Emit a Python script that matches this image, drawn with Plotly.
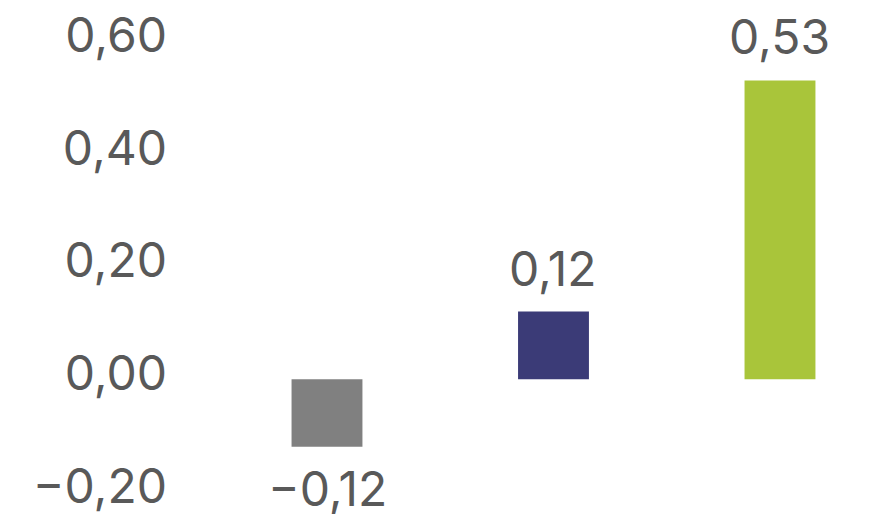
import plotly.graph_objects as go

# Bar values and colours
categories = ["A", "B", "C"]
values = [-0.12, 0.12, 0.53]
colors = ["#808080", "#3b3b77", "#a9c53a"]
y_ticks = [-0.2, 0.0, 0.2, 0.4, 0.6]

FONT = "Inter"
TEXT_COLOR = "#595959"
FONT_SIZE = 48
FONT_WEIGHT = 400

x_pos = list(range(len(categories)))

fig = go.Figure(
    go.Bar(
        x=x_pos,
        y=values,
        marker=dict(color=colors, line=dict(width=0)),
        width=0.313,
        hoverinfo="skip",
    )
)

# Value labels above positive bars, below negative ones
for xi, v in zip(x_pos, values):
    label = f"{v:.2f}".replace(".", ",").replace("-", "\u2212")
    fig.add_annotation(
        x=xi,
        y=v,
        text=label,
        showarrow=False,
        yanchor="bottom" if v >= 0 else "top",
        yshift=12 if v >= 0 else -10,
        font=dict(family=FONT, size=FONT_SIZE, color=TEXT_COLOR, weight=FONT_WEIGHT),
    )

fig.update_layout(
    width=877,
    height=514,
    margin=dict(l=200, r=0, t=41, b=22),
    paper_bgcolor="white",
    plot_bgcolor="white",
    separators=", ",
    showlegend=False,
    font=dict(family=FONT, size=FONT_SIZE, color=TEXT_COLOR, weight=FONT_WEIGHT),
)
fig.update_xaxes(
    range=[-0.5607, 2.4283],
    showticklabels=False,
    showgrid=False,
    zeroline=False,
    showline=False,
    automargin=False,
)
fig.update_yaxes(
    range=[-0.2001, 0.6],
    tickvals=y_ticks,
    tickformat=".2f",
    showgrid=False,
    zeroline=False,
    showline=False,
    automargin=False,
    ticklabelstandoff=32,
    ticklabelshift=-6,
    ticklabeloverflow="allow",
    tickfont=dict(family=FONT, size=FONT_SIZE, color=TEXT_COLOR, weight=FONT_WEIGHT),
)

fig.write_html("out.html")
